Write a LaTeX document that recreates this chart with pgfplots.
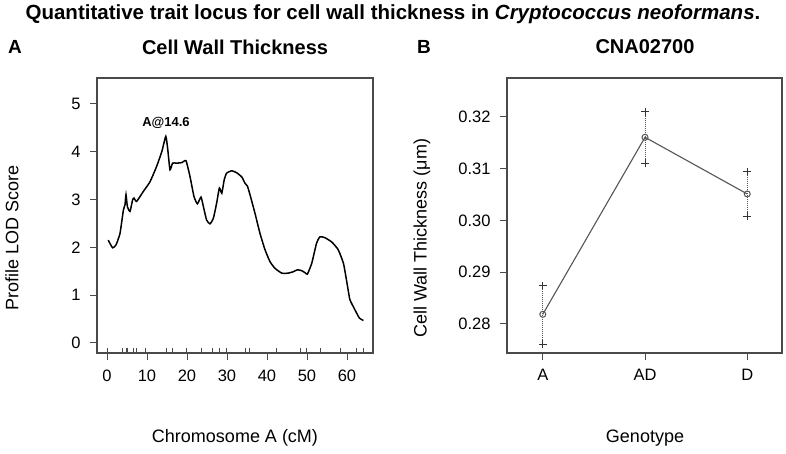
\documentclass[border=0pt]{standalone}
\usepackage{fontspec}
\setmainfont{Liberation Sans}
\usepackage{pgfplots}
\pgfplotsset{compat=1.18}
\definecolor{axgray}{HTML}{4A4A4A}
\definecolor{ptgray}{HTML}{555555}
\begin{document}
\begin{tikzpicture}[x=1pt,y=1pt]
\useasboundingbox (0,0) rectangle (786,453);
\pgfplotsset{
  rstyle/.style={
    scale only axis,
    axis line style={draw=axgray, line width=1.1pt},
    tick style={draw=axgray, line width=1pt},
    tick align=outside, major tick length=7pt,
    xtick pos=bottom, ytick pos=left,
    ticklabel style={font=\fontsize{16.5}{16.5}\selectfont},
    xticklabel style={yshift=-6pt},
    yticklabel style={xshift=-6pt},
    /pgf/number format/assume math mode=true,
    clip=false,
  }
}
\begin{axis}[rstyle, at={(97pt,100pt)}, anchor=south west, width=276pt, height=275pt,
  xmin=-2.5, xmax=66.5, ymin=-0.21, ymax=5.54,
  xtick={0,10,...,60}, ytick={0,1,...,5}]
\addplot[black, line width=1.5pt, smooth, tension=0.3] coordinates {
(0.3,2.15) (1.4,1.99) (2.25,2.05) (3.25,2.29) (4.1,2.78) (4.5,2.89) (4.75,3.10)
(5.1,2.85) (5.75,2.75) (6.4,2.99) (6.75,3.03) (7.4,2.96) (9.1,3.17) (10.75,3.37)
(12.4,3.69) (13.7,4.0) (14.7,4.32) (15.2,4.04) (15.75,3.62) (16.4,3.76) (17.4,3.76)
(18.7,3.77) (19.75,3.81) (20.75,3.48) (21.75,3.06) (22.6,2.91) (23.5,3.05) (24.1,2.85)
(24.9,2.57) (25.75,2.49) (26.6,2.61) (27.4,2.92) (28.1,3.24) (28.7,3.13) (29.3,3.41)
(29.9,3.55) (31.2,3.60) (32.4,3.56) (33.7,3.47) (34.5,3.34) (35.1,3.28) (35.75,3.10)
(37,2.71) (38.25,2.29) (39.5,1.95) (40.75,1.70) (42,1.56) (43.7,1.46) (45.3,1.46)
(46.6,1.49) (47.6,1.53) (48.7,1.51) (49.5,1.47) (50.1,1.44) (51.2,1.67) (52.4,2.09)
(53.25,2.22) (54.5,2.20) (56.2,2.11) (57.8,1.95) (59.1,1.67) (59.8,1.35) (60.4,1.05)
(60.75,0.90) (62,0.69) (63.1,0.52) (64.1,0.47)
};
\addplot[only marks, mark=|, mark size=2.6pt, mark options={draw=axgray, line width=0.8pt}] coordinates {
(0,-0.155) (3.9,-0.155) (4.75,-0.155) (5.1,-0.155) (6.6,-0.155) (7.25,-0.155) (9.5,-0.155)
(14.9,-0.155) (16.4,-0.155) (19.9,-0.155) (23.7,-0.155) (26.4,-0.155) (28.1,-0.155)
(29.75,-0.155) (34.5,-0.155) (35.6,-0.155) (42.4,-0.155) (48.4,-0.155) (49.9,-0.155)
(53.3,-0.155) (58.3,-0.155) (62.4,-0.155) (64.1,-0.155)
};
\node[font=\bfseries\fontsize{13}{13}\selectfont] at (axis cs:14.75,4.6) {A@14.6};
\end{axis}
\begin{axis}[rstyle, at={(507pt,100pt)}, anchor=south west, width=275pt, height=275pt,
  xmin=0.65, xmax=3.34, ymin=0.2744, ymax=0.32747,
  xtick={1,2,3}, xticklabels={A,AD,D},
  ytick={0.28,0.29,0.30,0.31,0.32},
  yticklabel style={/pgf/number format/.cd, fixed, fixed zerofill, precision=2}]
\addplot[ptgray, densely dotted, line width=1pt] coordinates {(1,0.27608) (1,0.28739)};
\addplot[ptgray, densely dotted, line width=1pt] coordinates {(2,0.31101) (2,0.32096)};
\addplot[ptgray, densely dotted, line width=1pt] coordinates {(3,0.30084) (3,0.30939)};
\addplot[ptgray, line width=1.1pt, mark=o, mark size=3pt, mark options={fill=white, line width=1pt}] coordinates {
(1,0.28187) (2,0.31603) (3,0.30509)};
\addplot[only marks, mark=+, mark size=3.8pt, mark options={draw=black!80, line width=0.9pt}] coordinates {
(1,0.27608) (1,0.28739) (2,0.31101) (2,0.32096) (3,0.30084) (3,0.30939)};
\end{axis}
\node[font=\fontsize{18}{18}\selectfont, rotate=90] at (12,215) {Profile LOD Score};
\node[font=\fontsize{18}{18}\selectfont, rotate=90] at (422,215) {Cell Wall Thickness (μm)};
\node[font=\fontsize{18}{18}\selectfont] at (235,15) {Chromosome A (cM)};
\node[font=\fontsize{18}{18}\selectfont] at (645,15) {Genotype};
\node[font=\bfseries\fontsize{20}{20}\selectfont] at (235,406) {Cell Wall Thickness};
\node[font=\bfseries\fontsize{20}{20}\selectfont] at (645,406) {CNA02700};
\node[font=\bfseries\fontsize{19}{19}\selectfont] at (15,406) {A};
\node[font=\bfseries\fontsize{19}{19}\selectfont] at (424,406) {B};
\node[font=\bfseries\fontsize{20.5}{20.5}\selectfont] at (393,439) {Quantitative trait locus for cell wall thickness in \textit{Cryptococcus neoformans}.};
\end{tikzpicture}
\end{document}
